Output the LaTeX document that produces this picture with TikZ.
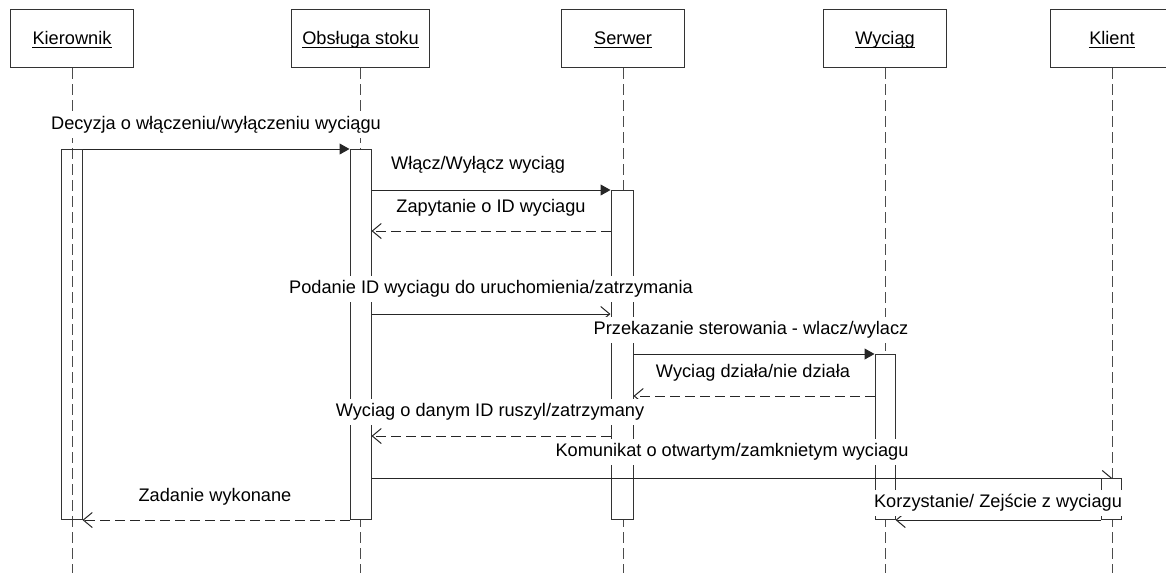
\documentclass[tikz,border=0pt]{standalone}
\usepackage{fontspec}
\setmainfont{Liberation Sans}
\usetikzlibrary{arrows.meta}

\begin{document}
\begin{tikzpicture}[x=1pt,y=-1pt,line width=1pt,
  every node/.style={font=\fontsize{18.2}{22}\selectfont},
  headbox/.style={draw=black!80, minimum width=123pt, minimum height=58pt,
    inner sep=0pt, anchor=north west},
  title/.style={anchor=base, inner sep=0pt},
  lifeline/.style={draw=black!70, dash pattern=on 11pt off 5pt},
  actbar/.style={draw=black!80, fill=white, inner sep=0pt, minimum width=21pt, anchor=north},
  call/.style={draw=black!85, -{Triangle[length=10pt,width=11pt]}},
  msg/.style={draw=black!85, -{Straight Barb[length=9pt,width=15pt,line width=1pt]}},
  reply/.style={msg, dash pattern=on 10pt off 5pt},
  lbl/.style={fill=white, inner xsep=1pt, inner ysep=4.5pt, text height=13.5pt, text depth=4pt}
]
\useasboundingbox (0,0) rectangle (1166,574);
\clip (0,0) rectangle (1166,574);

% participants
\node[headbox] (hKie) at (10,9) {};
\node[headbox, minimum width=138pt] (hObs) at (291,9) {};
\node[headbox] (hSrv) at (561,9) {};
\node[headbox] (hWyc) at (823,9) {};
\node[headbox] (hKli) at (1050,9) {};

\foreach \h/\t in {Kie/Kierownik, Obs/Obsługa stoku, Srv/Serwer, Wyc/Wyciąg, Kli/Klient} {
  \node[title] (t\h) at ([yshift=-5.5pt]h\h.center) {\t};
  \draw[line width=0.9pt] ([yshift=-3.5pt]t\h.base west) -- ([yshift=-3.5pt]t\h.base east);
}

% lifelines
\coordinate (bot) at (0,573);
\foreach \h in {Kie,Obs,Srv,Wyc,Kli} {
  \coordinate (e\h) at (h\h.south |- bot);
  \draw[lifeline] (h\h.south) -- (e\h);
}

% activation bars
\node[actbar, fill=none, minimum height=370pt] (aKie) at (71.5,149) {};
\node[actbar, minimum height=370pt] (aObs) at (360.5,149) {};
\node[actbar, minimum width=22pt, minimum height=329pt] (aSrv) at (622,190) {};
\node[actbar, minimum width=20pt, minimum height=165pt] (aWyc) at (885,354) {};

% message levels
\coordinate (y3) at (0,231);
\coordinate (y4) at (0,314);
\coordinate (y6) at (0,396);
\coordinate (y7) at (0,436);
\coordinate (y8) at (0,478);

% messages
\draw[call] (aKie.north east) -- (aObs.north west);
\draw[call] (aObs.east |- aSrv.north) -- (aSrv.north west);
\draw[reply] (aSrv.west |- y3) -- (aObs.east |- y3);
\draw[msg] (aObs.east |- y4) -- (aSrv.west |- y4);
\draw[call] (aSrv.east |- aWyc.north) -- (aWyc.north west);
\draw[reply] (aWyc.west |- y6) -- (aSrv.east |- y6);
\draw[reply] (aSrv.west |- y7) -- (aObs.east |- y7);
\draw[msg] (aObs.east |- y8) -- (eKli |- y8);

\node[actbar, minimum width=20pt, minimum height=41pt] (aKli) at (1111.5,478) {};

\draw[msg] (aKli.south west) -- (aWyc.south east);
\draw[reply] (aObs.south west) -- (aKie.south east);

% message labels
\node[lbl] (l1) at (216,125) {Decyzja o włączeniu/wyłączeniu wyciągu};
\node[lbl] (l2) at (478,165) {Włącz/Wyłącz wyciąg};
\node[lbl] (l3) at (491,208) {Zapytanie o ID wyciagu};
\node[lbl] (l4) at (491,289) {Podanie ID wyciagu do uruchomienia/zatrzymania};
\node[lbl] (l5) at (751,330) {Przekazanie sterowania - wlacz/wylacz};
\node[lbl] (l6) at (753,373) {Wyciag działa/nie działa};
\node[lbl] (l7) at (490,412) {Wyciag o danym ID ruszyl/zatrzymany};
\node[lbl] (l8) at (732,452) {Komunikat o otwartym/zamknietym wyciagu};
\node[lbl, inner xsep=0pt] (l9) at (998,503) {Korzystanie/ Zejście z wyciagu};
\node[lbl] (l10) at (215,497) {Zadanie wykonane};
\end{tikzpicture}
\end{document}
